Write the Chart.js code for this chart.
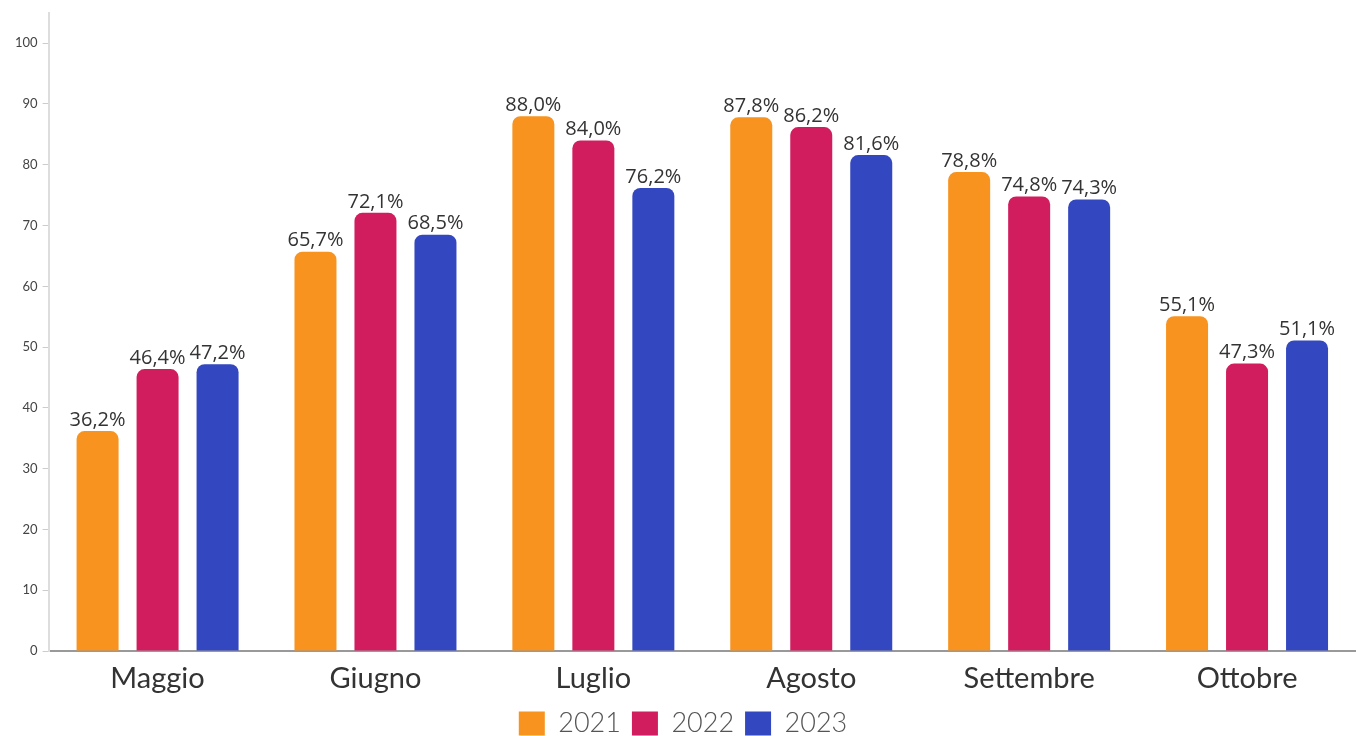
<!DOCTYPE html>
<html>
<head>
<meta charset="utf-8">
<script src="https://cdn.jsdelivr.net/npm/chart.js@4"></script>
<style>
  html, body { margin: 0; padding: 0; background: #fff; }
  #wrap { width: 1356px; height: 736px; }
</style>
</head>
<body>
<div id="wrap"><canvas id="barChart"></canvas></div>
<script>
// months on the x axis
const months = ['Maggio', 'Giugno', 'Luglio', 'Agosto', 'Settembre', 'Ottobre']
// percentages per year
const values2021 = [36.2, 65.7, 88.0, 87.8, 78.8, 55.1]
const values2022 = [46.4, 72.1, 84.0, 86.2, 74.8, 47.3]
const values2023 = [47.2, 68.5, 76.2, 81.6, 74.3, 51.1]
const yearLabels = ['2021', '2022', '2023']
const yTicks = [0, 10, 20, 30, 40, 50, 60, 70, 80, 90, 100]

const colors = ['#f7931e', '#d11c5e', '#3347c0']

// writes the value above each bar, like "88,0%"
const barLabels = {
  id: 'barLabels',
  afterDatasetsDraw(chart) {
    const ctx = chart.ctx
    ctx.save()
    ctx.font = '20px "Open Sans", Lato, sans-serif'
    ctx.fillStyle = '#333'
    ctx.textAlign = 'center'
    ctx.textBaseline = 'bottom'
    chart.data.datasets.forEach((ds, i) => {
      chart.getDatasetMeta(i).data.forEach((bar, j) => {
        const txt = ds.data[j].toFixed(1).replace('.', ',') + '%'
        ctx.fillText(txt, bar.x, bar.y - 1)
      })
    })
    ctx.restore()
  },
}

const canvas = document.getElementById('barChart')
const myChart = new Chart(canvas, {
  type: 'bar',
  data: {
    labels: months,
    datasets: [values2021, values2022, values2023].map((d, i) => ({
      label: yearLabels[i],
      data: d,
      backgroundColor: colors[i],
      borderRadius: { topLeft: 8, topRight: 8 },
      borderSkipped: 'start',
      categoryPercentage: 0.826,
      barPercentage: 0.7,
    })),
  },
  options: {
    responsive: true,
    maintainAspectRatio: false,
    animation: false,
    layout: { padding: { left: 10, right: 0, top: 12, bottom: -11 } },
    scales: {
      x: {
        grid: { display: false },
        border: { display: true, color: '#999', width: 2 },
        ticks: {
          color: '#333',
          padding: 4,
          font: { family: 'Lato', size: 29, lineHeight: 1.1 },
        },
      },
      y: {
        min: 0,
        max: 105,
        afterBuildTicks: (axis) => {
          axis.ticks = yTicks.map((v) => ({ value: v }))
        },
        grid: {
          drawOnChartArea: false,
          drawTicks: true,
          tickLength: 6,
          color: '#ccc',
        },
        border: { display: true, color: '#ddd', width: 2 },
        ticks: {
          color: '#444',
          padding: 5,
          font: { family: 'Lato', size: 13 },
        },
      },
    },
    plugins: {
      legend: {
        position: 'bottom',
        labels: {
          boxWidth: 26,
          boxHeight: 24,
          padding: 11,
          color: '#555',
          font: { family: 'Lato', size: 27, weight: '300', lineHeight: 1 },
        },
      },
      tooltip: { enabled: false },
    },
  },
  plugins: [barLabels],
})
</script>
</body>
</html>
